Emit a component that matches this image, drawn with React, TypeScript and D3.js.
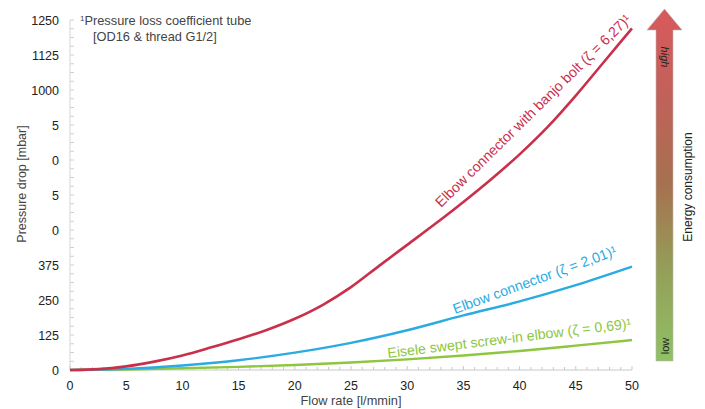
import React from "react";
import * as d3 from "d3";

const flowRate = [0, 2.5, 5, 7.5, 10, 12.5, 15, 17.5, 20, 22.5, 25, 27.5, 30, 32.5, 35, 37.5, 40, 42.5, 45, 47.5, 50];
const banjoBolt = [0, 3, 13, 30, 52, 80, 110, 143, 183, 233, 296, 372, 447, 522, 600, 682, 770, 868, 980, 1100, 1220];
const flowRate5 = [0, 5, 10, 15, 20, 25, 30, 35, 40, 45, 50];
const elbowConnector = [0, 4, 16, 35, 62, 97, 142, 195, 245, 303, 369];
const eiseleElbow = [0, 2, 6, 11, 18, 27, 38, 52, 68, 87, 107];

const xTicks = [0, 5, 10, 15, 20, 25, 30, 35, 40, 45, 50];
const yTicks = [0, 125, 250, 375, 500, 625, 750, 875, 1000, 1125, 1250];
const yTickLabels = ["0", "125", "250", "375", "0", "5", "0", "5", "1000", "1125", "1250"];

const seriesLabels = [
  "Elbow connector with banjo bolt (ζ = 6,27)¹",
  "Elbow connector (ζ = 2,01)¹",
  "Eisele swept screw-in elbow (ζ = 0,69)¹",
];

export default function App() {
  const W = 705, H = 409;
  const x = d3.scaleLinear().domain([0, 50]).range([70, 632]);
  const y = d3.scaleLinear().domain([0, 1250]).range([370, 20]);
  const line = d3
    .line<[number, number]>()
    .x((d) => x(d[0]))
    .y((d) => y(d[1]))
    .curve(d3.curveMonotoneX);

  const red = line(flowRate.map((v, i) => [v, banjoBolt[i]] as [number, number]))!;
  const blue = line(flowRate5.map((v, i) => [v, elbowConnector[i]] as [number, number]))!;
  const green = line(flowRate5.map((v, i) => [v, eiseleElbow[i]] as [number, number]))!;

  const xMinor = d3.range(0, 51, 1);
  const yMinor = d3.range(0, 1250.1, 31.25);
  const font = "'Liberation Sans', Arial, Helvetica, sans-serif";

  const redC = "#c9304b";
  const blueC = "#2aabe2";
  const greenC = "#8dc63f";

  return (
    <svg
      width={W}
      height={H}
      style={{ position: "absolute", left: 0, top: 0, background: "#fff" }}
      fontFamily={font}
    >
      <defs>
        <linearGradient id="energy" x1="0" y1="0" x2="0" y2="1">
          <stop offset="0" stopColor="#d8595c" />
          <stop offset="0.25" stopColor="#c1625a" />
          <stop offset="0.5" stopColor="#a67150" />
          <stop offset="0.75" stopColor="#94a058" />
          <stop offset="1" stopColor="#8fc164" />
        </linearGradient>
      </defs>

      {/* axes */}
      <line x1={x(0)} x2={x(50)} y1={y(0)} y2={y(0)} stroke="#c8c8c8" strokeWidth={1} />
      <line x1={x(0)} x2={x(0)} y1={y(0)} y2={y(1250)} stroke="#d4d4d4" strokeWidth={1} />
      {xMinor.map((t) => (
        <line key={"xm" + t} x1={x(t)} x2={x(t)} y1={y(0)} y2={y(0) - (t % 5 === 0 ? 4 : 3)} stroke="#c8c8c8" />
      ))}
      {yMinor.map((t) => (
        <line key={"ym" + t} x1={x(0)} x2={x(0) + 4} y1={y(t)} y2={y(t)} stroke="#d0d0d0" />
      ))}

      {xTicks.map((t) => (
        <text key={"xt" + t} x={x(t)} y={y(0) + 20} textAnchor="middle" fontSize={12.5} fill="#222">
          {t}
        </text>
      ))}
      {yTicks.map((t, i) => (
        <text key={"yt" + t} x={59} y={y(t) + 4.5} textAnchor="end" fontSize={12.5} fill="#222">
          {yTickLabels[i]}
        </text>
      ))}

      <text x={351} y={405} textAnchor="middle" fontSize={12.8} fill="#444">
        Flow rate [l/mmin]
      </text>
      <text transform="translate(26,184) rotate(-90)" textAnchor="middle" fontSize={12.5} fill="#444">
        Pressure drop [mbar]
      </text>

      <text x={80} y={25} fontSize={12.8} fill="#444">
        <tspan fontSize={8} dy={-4}>1</tspan>
        <tspan dy={4}>Pressure loss coefficient tube</tspan>
      </text>
      <text x={93} y={41} fontSize={12.8} fill="#444">
        [OD16 &amp; thread G1/2]
      </text>

      {/* curves */}
      <path d={green} fill="none" stroke={greenC} strokeWidth={2.4} />
      <path d={blue} fill="none" stroke={blueC} strokeWidth={2.4} />
      <path d={red} fill="none" stroke={redC} strokeWidth={2.6} />

      <text transform="translate(441,208) rotate(-44.5)" fontSize={14.2} fill={redC}>
        {seriesLabels[0]}
      </text>
      <text transform="translate(455,314) rotate(-20)" fontSize={14.2} fill={blueC}>
        {seriesLabels[1]}
      </text>
      <text transform="translate(388,358) rotate(-7)" fontSize={14.2} fill={greenC}>
        {seriesLabels[2]}
      </text>

      {/* energy arrow */}
      <path
        d="M656,30 L647,30 L664.5,9 L682,30 L673,30 L673,361 L656,361 Z"
        fill="url(#energy)"
        stroke="#b9b9b9"
        strokeWidth={0.6}
      />
      <text transform="translate(661,57) rotate(90)" textAnchor="middle" fontSize={11} fontStyle="italic" fill="#222">
        high
      </text>
      <text transform="translate(668.5,346) rotate(-90)" textAnchor="middle" fontSize={11} fill="#222">
        low
      </text>
      <text transform="translate(692,187) rotate(-90)" textAnchor="middle" fontSize={12} fill="#222">
        Energy consumption
      </text>
    </svg>
  );
}
